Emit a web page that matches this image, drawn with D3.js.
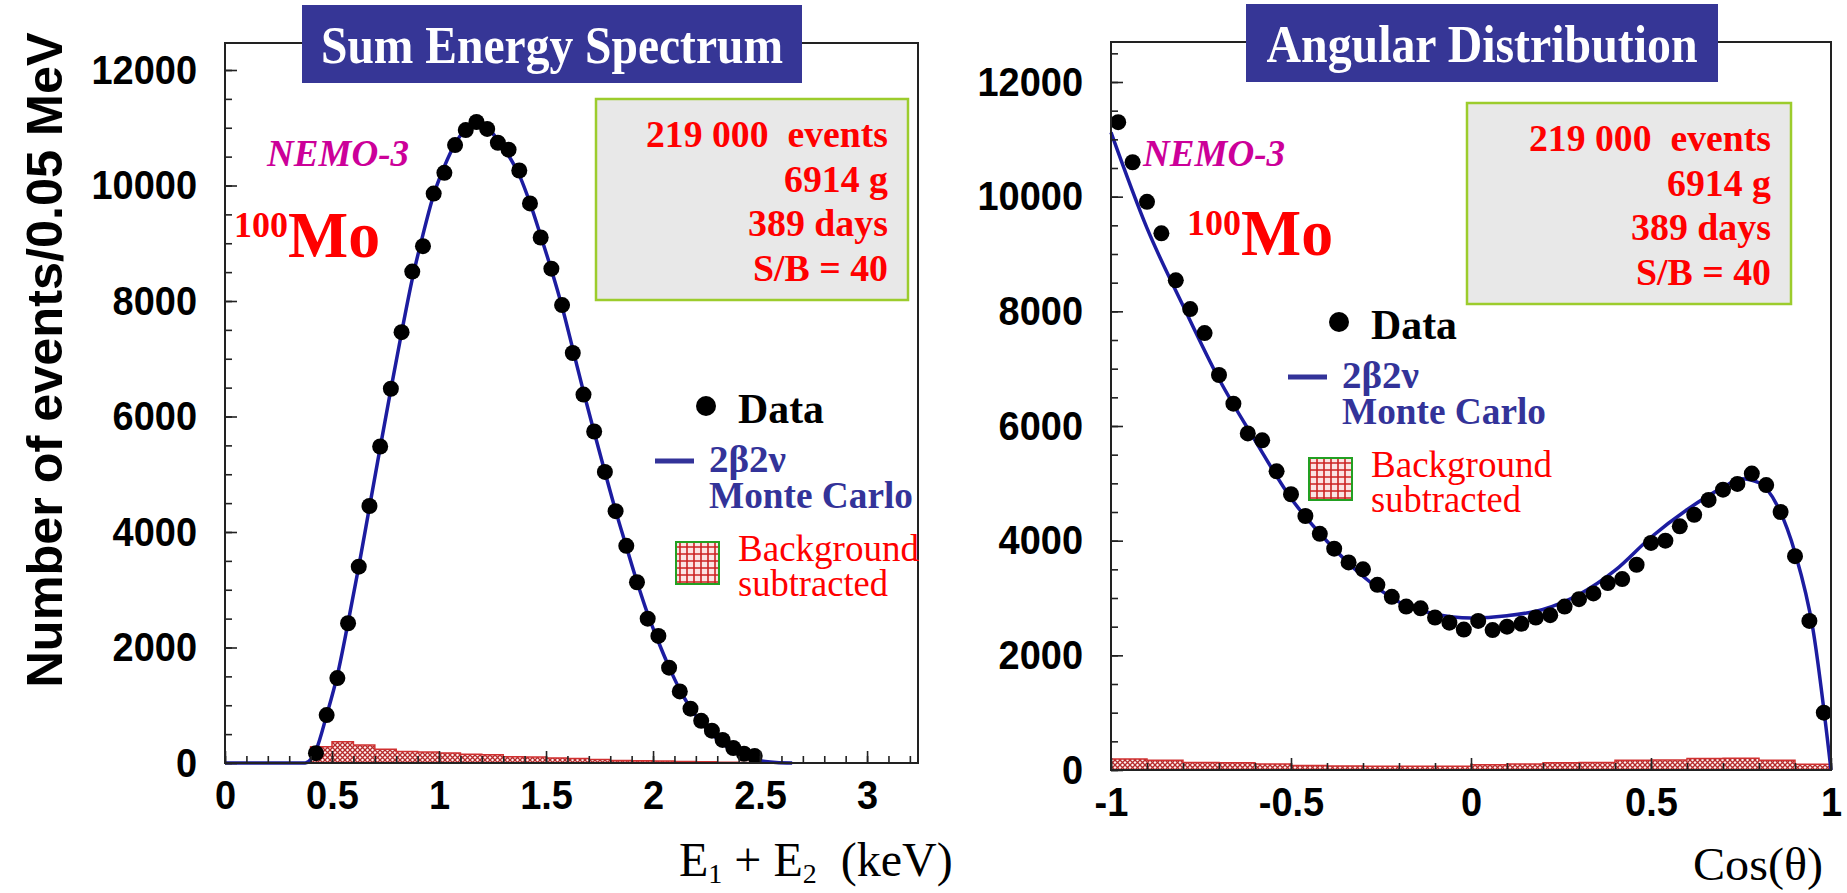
<!DOCTYPE html>
<html>
<head>
<meta charset="utf-8">
<script src="https://cdn.jsdelivr.net/npm/d3@7"></script>
<style>
  body { margin: 0; background: #fff; }
  text { white-space: pre; }
</style>
</head>
<body>
<svg width="1847" height="893"></svg>
<script>
// ---- sum energy spectrum, 0.05 MeV bins ----
const energyBins = [0.425, 0.475, 0.525, 0.575, 0.625, 0.675, 0.725, 0.775, 0.825, 0.875,
  0.925, 0.975, 1.025, 1.075, 1.125, 1.175, 1.225, 1.275, 1.325, 1.375,
  1.425, 1.475, 1.525, 1.575, 1.625, 1.675, 1.725, 1.775, 1.825, 1.875,
  1.925, 1.975, 2.025, 2.075, 2.125, 2.175, 2.225, 2.275, 2.325, 2.375,
  2.425, 2.475];
const energyData = [170, 830, 1470, 2420, 3400, 4450, 5480, 6480, 7460, 8510,
  8950, 9860, 10220, 10700, 10960, 11100, 10980, 10740, 10620, 10260,
  9690, 9100, 8560, 7930, 7100, 6380, 5740, 5040, 4360, 3760,
  3130, 2500, 2200, 1650, 1240, 940, 730, 560, 400, 260,
  160, 120];
const energyMcX = [0, 0.375, 0.425, 0.475, 0.525, 0.575, 0.625, 0.675, 0.725, 0.775, 0.825, 0.875,
  0.925, 0.975, 1.025, 1.075, 1.125, 1.175, 1.225, 1.275, 1.325, 1.375,
  1.425, 1.475, 1.525, 1.575, 1.625, 1.675, 1.725, 1.775, 1.825, 1.875,
  1.925, 1.975, 2.025, 2.075, 2.125, 2.175, 2.225, 2.275, 2.325, 2.375,
  2.425, 2.475, 2.525, 2.575, 2.65];
const energyMcY = [0, 0, 220, 830, 1520, 2430, 3400, 4430, 5460, 6470, 7450, 8380,
  9150, 9840, 10330, 10720, 10980, 11080, 11000, 10790, 10520, 10180,
  9700, 9130, 8540, 7900, 7170, 6430, 5730, 5040, 4370, 3750,
  3140, 2580, 2100, 1660, 1270, 950, 700, 500, 330, 210,
  120, 60, 25, 8, 0];
const energyBgEdges = [0.4, 0.5, 0.6, 0.7, 0.8, 0.9, 1.0, 1.1, 1.2, 1.3, 1.4, 1.5,
  1.6, 1.7, 1.8, 1.9, 2.0, 2.1, 2.2, 2.3, 2.4, 2.5, 2.6];
const energyBg = [280, 370, 310, 240, 200, 190, 175, 150, 145, 110, 105,
  85, 80, 60, 45, 40, 35, 25, 20, 15, 10, 5];

// ---- angular distribution, 0.04 bins ----
const cosBins = [-0.98, -0.94, -0.90, -0.86, -0.82, -0.78, -0.74, -0.70, -0.66, -0.62,
  -0.58, -0.54, -0.50, -0.46, -0.42, -0.38, -0.34, -0.30, -0.26, -0.22,
  -0.18, -0.14, -0.10, -0.06, -0.02, 0.02, 0.06, 0.10, 0.14, 0.18,
  0.22, 0.26, 0.30, 0.34, 0.38, 0.42, 0.46, 0.50, 0.54, 0.58,
  0.62, 0.66, 0.70, 0.74, 0.78, 0.82, 0.86, 0.90, 0.94, 0.98];
const cosData = [11300, 10600, 9910, 9360, 8540, 8040, 7620, 6890, 6390, 5870,
  5750, 5210, 4810, 4430, 4120, 3860, 3620, 3500, 3230, 3020,
  2850, 2820, 2660, 2570, 2450, 2600, 2440, 2500, 2550, 2660,
  2700, 2850, 2980, 3080, 3260, 3330, 3580, 3960, 4000, 4250,
  4450, 4710, 4890, 4990, 5170, 4970, 4500, 3730, 2600, 1000];
const cosMcX = [-1.0, -0.9, -0.8, -0.7, -0.6, -0.5, -0.4, -0.3, -0.2, -0.1,
  0.0, 0.1, 0.2, 0.3, 0.4, 0.5, 0.6, 0.7, 0.75, 0.8, 0.85, 0.9, 0.95, 1.0];
const cosMcY = [11120, 9450, 8100, 6820, 5750, 4740, 3990, 3380, 2930, 2720,
  2650, 2690, 2800, 3060, 3480, 4060, 4540, 4930, 5080, 5010, 4620, 3790, 2450, 0];
const cosBgEdges = [-1.0, -0.9, -0.8, -0.7, -0.6, -0.5, -0.4, -0.3, -0.2, -0.1, 0.0,
  0.1, 0.2, 0.3, 0.4, 0.5, 0.6, 0.7, 0.8, 0.9, 1.0];
const cosBg = [190, 170, 130, 125, 105, 80, 70, 65, 65, 65,
  90, 105, 125, 130, 170, 175, 200, 205, 170, 100];

// ---- ticks ----
const yTicks = [0, 2000, 4000, 6000, 8000, 10000, 12000];
const energyTicks = [0, 0.5, 1, 1.5, 2, 2.5, 3];
const cosTicks = [-1, -0.5, 0, 0.5, 1];

const svg = d3.select("svg");
svg.append("rect").attr("width", 1847).attr("height", 893).attr("fill", "#fff");

const defs = svg.append("defs");
const hatch = defs.append("pattern").attr("id", "bgHatch")
  .attr("patternUnits", "userSpaceOnUse").attr("width", 5).attr("height", 5);
hatch.append("rect").attr("width", 5).attr("height", 5).attr("fill", "#fff2f2");
hatch.append("path").attr("d", "M0,0L5,5M5,0L0,5")
  .attr("stroke", "#b52a2a").attr("stroke-width", 1.3);

const grid = defs.append("pattern").attr("id", "legendGrid")
  .attr("patternUnits", "userSpaceOnUse").attr("width", 7).attr("height", 7);
grid.append("rect").attr("width", 7).attr("height", 7).attr("fill", "#fbe4e4");
grid.append("path").attr("d", "M0,1H7M1,0V7")
  .attr("stroke", "#cc2222").attr("stroke-width", 1.6);

// narrow-ish sans digits, like the original plot labels
const charW = { ".": 10.6, "-": 12.7 };
const labelWidth = s => d3.sum(String(s).split(""), c => charW[c] || 21.1);

function addText(g, x, y, str, o) {
  const t = g.append("text").attr("x", x).attr("y", y).text(str)
    .attr("font-family", o.family || "Liberation Serif")
    .attr("font-size", o.size)
    .attr("font-weight", o.weight || "normal")
    .attr("font-style", o.style || "normal")
    .attr("fill", o.fill || "#000")
    .attr("text-anchor", o.anchor || "start");
  if (o.width) t.attr("textLength", o.width).attr("lengthAdjust", "spacingAndGlyphs");
  return t;
}

function drawPanel(p) {
  const g = svg.append("g");
  const x = d3.scaleLinear().domain(p.xDomain).range([p.left, p.right]);
  const y = d3.scaleLinear().domain([0, 12000]).range([p.bottom, p.y12k]);

  // background subtracted (step histogram)
  const bgPts = p.bgEdges.map((e, i) => [e, i < p.bg.length ? p.bg[i] : p.bg[p.bg.length - 1]]);
  g.append("path").datum(bgPts)
    .attr("d", d3.area().curve(d3.curveStepAfter)
      .x(d => x(d[0])).y0(y(0)).y1(d => y(d[1])))
    .attr("fill", "url(#bgHatch)")
    .attr("stroke", "#d03030").attr("stroke-width", 1.5);

  // Monte Carlo curve
  const mc = p.mcX.map((v, i) => [v, p.mcY[i]]);
  g.append("path").datum(mc)
    .attr("d", d3.line().curve(d3.curveMonotoneX).x(d => x(d[0])).y(d => y(d[1])))
    .attr("fill", "none").attr("stroke", "#1c1ca0").attr("stroke-width", 3.5);

  // data points
  g.selectAll("circle.pt").data(p.bins).enter().append("circle")
    .attr("class", "pt")
    .attr("cx", d => x(d)).attr("cy", (d, i) => y(p.data[i]))
    .attr("r", 8).attr("fill", "#000");

  // axes
  const yMinor = d3.range(0, y.invert(p.top), 500);
  g.append("g").attr("transform", `translate(${p.left},0)`)
    .call(d3.axisLeft(y).tickValues(yMinor).tickSize(-7).tickFormat(""))
    .call(a => a.select(".domain").remove());
  g.append("g").attr("transform", `translate(${p.left},0)`)
    .call(d3.axisLeft(y).tickValues(yTicks).tickSize(-12).tickPadding(28).tickFormat(d3.format("d")))
    .call(a => a.select(".domain").remove())
    .call(a => a.selectAll("text").attr("font-family", "Liberation Sans")
      .attr("font-weight", "bold").attr("font-size", 41).attr("fill", "#000")
      .attr("textLength", d => labelWidth(d)).attr("lengthAdjust", "spacingAndGlyphs"));

  const xMinor = d3.range(Math.round(p.xDomain[0] * 10), Math.floor(p.xDomain[1] * 10) + 1).map(d => d / 10);
  g.append("g").attr("transform", `translate(0,${p.bottom})`)
    .call(d3.axisBottom(x).tickValues(xMinor).tickSize(-7).tickFormat(""))
    .call(a => a.select(".domain").remove());
  g.append("g").attr("transform", `translate(0,${p.bottom})`)
    .call(d3.axisBottom(x).tickValues(p.xTicks).tickSize(-12).tickFormat(d => String(d)))
    .call(a => a.select(".domain").remove())
    .call(a => a.selectAll("text").attr("y", 46).attr("dy", null)
      .attr("font-family", "Liberation Sans").attr("font-weight", "bold")
      .attr("font-size", 40).attr("fill", "#000")
      .attr("textLength", d => labelWidth(d)).attr("lengthAdjust", "spacingAndGlyphs"));
  g.selectAll(".tick line").attr("stroke", "#222").attr("stroke-width", 1.6);

  // frame
  g.append("rect").attr("x", p.left).attr("y", p.top)
    .attr("width", p.right - p.left).attr("height", p.bottom - p.top)
    .attr("fill", "none").attr("stroke", "#222").attr("stroke-width", 2);

  // title box
  g.append("rect").attr("x", p.title.x).attr("y", p.title.y)
    .attr("width", p.title.w).attr("height", p.title.h).attr("fill", "#363696");
  addText(g, p.title.x + p.title.w / 2, p.title.y + 58, p.title.text,
    { size: 52, weight: "bold", fill: "#fff", anchor: "middle", width: p.title.tw });

  // info box
  const ib = p.info;
  g.append("rect").attr("x", ib.x).attr("y", ib.y).attr("width", ib.w).attr("height", ib.h)
    .attr("fill", "#e8e8e8").attr("stroke", "#9ccc2c").attr("stroke-width", 2.5);
  const infoLines = [["219 000  events", 242], ["6914 g", 104], ["389 days", 140], ["S/B = 40", 135]];
  infoLines.forEach((l, i) => addText(g, ib.x + ib.w - 20, ib.y + 48 + i * 44.5, l[0],
    { size: 38, weight: "bold", fill: "#ff0000", anchor: "end", width: l[1] }));

  // NEMO-3 and isotope
  addText(g, p.nemo[0], p.nemo[1], "NEMO-3",
    { size: 38, weight: "bold", style: "italic", fill: "#cc0099", width: 142 });
  addText(g, p.mo[0], p.mo[1] - 20, "100", { size: 36, weight: "bold", fill: "#ff0000", width: 54 });
  addText(g, p.mo[0] + 54, p.mo[1], "Mo", { size: 66, weight: "bold", fill: "#ff0000", width: 92 });

  // legend
  const L = p.legend;
  g.append("circle").attr("cx", L.x).attr("cy", L.y).attr("r", 10).attr("fill", "#000");
  addText(g, L.x + 32, L.y + 17, "Data", { size: 42, weight: "bold", width: 86 });
  g.append("line").attr("x1", L.x - 51).attr("x2", L.x - 12)
    .attr("y1", L.y + 55).attr("y2", L.y + 55)
    .attr("stroke", "#333399").attr("stroke-width", 5);
  addText(g, L.x + 3, L.y + 66, "2β2ν", { size: 37, weight: "bold", fill: "#333399", width: 77 });
  addText(g, L.x + 3, L.y + 102, "Monte Carlo", { size: 37, weight: "bold", fill: "#333399", width: 204 });
  g.append("rect").attr("x", L.x - 30).attr("y", L.y + 136).attr("width", 43).attr("height", 42)
    .attr("fill", "url(#legendGrid)").attr("stroke", "#22a022").attr("stroke-width", 2);
  addText(g, L.x + 32, L.y + 155, "Background", { size: 37, fill: "#ff0000", width: 181 });
  addText(g, L.x + 32, L.y + 190, "subtracted", { size: 37, fill: "#ff0000", width: 150 });

  return g;
}

const left = drawPanel({
  left: 225, right: 918, top: 43, bottom: 763, y12k: 70,
  xDomain: [0, 3.238], xTicks: energyTicks,
  bins: energyBins, data: energyData, mcX: energyMcX, mcY: energyMcY,
  bgEdges: energyBgEdges, bg: energyBg,
  title: { x: 302, y: 5, w: 500, h: 78, text: "Sum Energy Spectrum", tw: 462 },
  info: { x: 596, y: 99, w: 312, h: 201 },
  nemo: [267, 166], mo: [234, 257],
  legend: { x: 706, y: 406 }
});

const right = drawPanel({
  left: 1111, right: 1831, top: 42, bottom: 770, y12k: 82,
  xDomain: [-1, 1], xTicks: cosTicks,
  bins: cosBins, data: cosData, mcX: cosMcX, mcY: cosMcY,
  bgEdges: cosBgEdges, bg: cosBg,
  title: { x: 1246, y: 4, w: 472, h: 78, text: "Angular Distribution", tw: 431 },
  info: { x: 1467, y: 103, w: 324, h: 201 },
  nemo: [1143, 166], mo: [1187, 255],
  legend: { x: 1339, y: 322 }
});

// axis titles
svg.append("text").attr("transform", "translate(62,360) rotate(-90)")
  .attr("text-anchor", "middle").attr("font-family", "Liberation Sans")
  .attr("font-weight", "bold").attr("font-size", 50)
  .attr("textLength", 655).attr("lengthAdjust", "spacingAndGlyphs")
  .text("Number of events/0.05 MeV");

const xt = svg.append("text").attr("x", 679).attr("y", 876)
  .attr("font-family", "Liberation Serif").attr("font-size", 48).attr("fill", "#000");
xt.append("tspan").text("E");
xt.append("tspan").attr("font-size", 28).attr("dy", 7).text("1");
xt.append("tspan").attr("dy", -7).text(" + E");
xt.append("tspan").attr("font-size", 28).attr("dy", 7).text("2");
xt.append("tspan").attr("dy", -7).text("  (keV)");

addText(svg, 1693, 880, "Cos(θ)", { size: 46, width: 130 });
</script>
</body>
</html>
